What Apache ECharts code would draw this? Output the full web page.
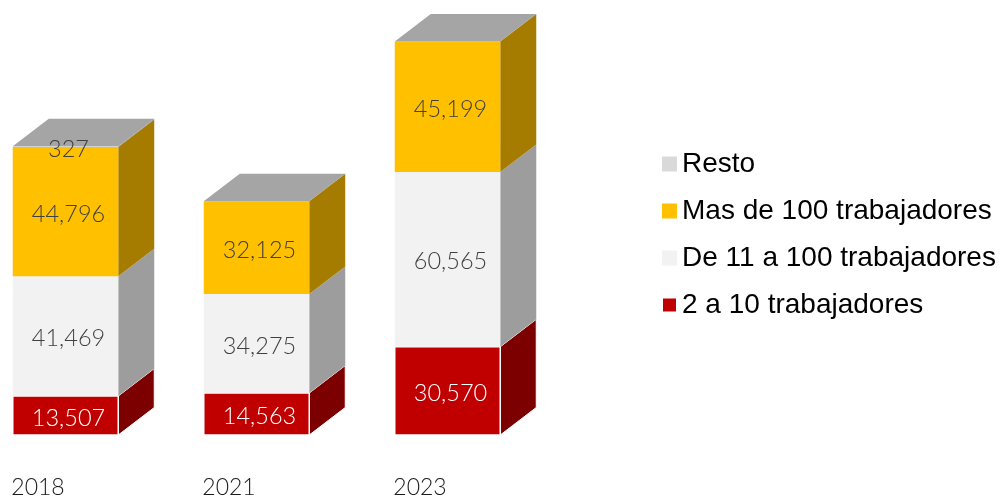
<!DOCTYPE html>
<html><head><meta charset="utf-8">
<style>html,body{margin:0;padding:0;background:#fff}#c{width:1003px;height:501px}</style>
<script src="https://cdn.jsdelivr.net/npm/echarts@6/dist/echarts.min.js"></script>
</head><body><div id="c"></div><script>
const years = ['2018','2021','2023'];
const pequenas = [13507,14563,30570];
const medianas = [41469,34275,60565];
const grandes = [44796,32125,45199];
const resto = [327,0,0];
const names = ['2 a 10 trabajadores','De 11 a 100 trabajadores','Mas de 100 trabajadores','Resto'];
const values = [pequenas,medianas,grandes,resto];
const front = ['#c00000','#f2f2f2','#ffc000','#d9d9d9'];
const side = ['#7c0000','#9d9d9d','#a67c00','#8d8d8d'];
const topFace = '#a5a5a5';
const labelColor = ['#ffffff','#404040','#404040','#404040'];
const DX = 36, DY = 27.5, BAR = 105.5;
const FONT = '300 23.5px Lato, sans-serif';

function renderer(si){
  return function(params, api){
    const cx = api.coord([api.value(0),0])[0];
    const y0 = api.coord([api.value(0),api.value(1)])[1];
    const y1 = api.coord([api.value(0),api.value(2)])[1];
    const xl = cx-BAR/2, xr = cx+BAR/2;
    const kids = [];
    if (api.value(2) > api.value(1)) {
      kids.push({type:'polygon',shape:{points:[[xr,y0],[xr+DX,y0-DY],[xr+DX,y1-DY],[xr,y1]]},
        style:{fill:side[si],stroke:si===0?'#fff':null,lineWidth:si===0?1:0}});
      kids.push({type:'rect',shape:{x:xl,y:y1,width:BAR,height:y0-y1},
        style:{fill:front[si],stroke:si===0?'#fff':null,lineWidth:si===0?1.5:0}});
    }
    if (si === values.length-1) {
      kids.push({type:'polygon',shape:{points:[[xl,y1],[xl+DX,y1-DY],[xr+DX,y1-DY],[xr,y1]]},style:{fill:topFace}});
    }
    if (api.value(2) > api.value(1)) {
      kids.push({type:'text',z2:10,style:{x:cx+3,y:(y0+y1)/2+2.5,text:api.value(3).toLocaleString('en-US'),
        align:'center',verticalAlign:'middle',font:FONT,fill:labelColor[si]}});
    }
    return {type:'group',children:kids};
  };
}
const series = names.map((n,si)=>({
  type:'custom',name:n,clip:false,silent:true,
  itemStyle:{color:front[si]},
  encode:{x:0,y:[1,2]},
  renderItem:renderer(si),
  data:years.map((y,i)=>{
    let base=0; for(let k=0;k<si;k++) base+=values[k][i];
    return [i,base,base+values[si][i],values[si][i]];
  })
}));
const chart = echarts.init(document.getElementById('c'),null,{renderer:'canvas'});
chart.setOption({
  animation:false,
  tooltip:{show:false},
  legend:{
    orient:'vertical',left:656,top:144,itemWidth:15,itemHeight:15,itemGap:17,icon:'rect',
    selectedMode:false,
    textStyle:{fontFamily:'"Liberation Sans", Arial, sans-serif',fontSize:28,color:'#000',lineHeight:30},
    data:[names[3],names[2],names[1],{name:names[0],itemStyle:{borderColor:'#fff',borderWidth:2}}]
  },
  grid:{left:-30,right:460,top:31,bottom:66,outerBoundsMode:'none'},
  xAxis:{type:'category',data:years,axisLine:{show:false},axisTick:{show:false},
    axisLabel:{margin:41.5,color:'#1a1a1a',fontFamily:'Lato, sans-serif',fontWeight:300,fontSize:23,padding:[0,55,0,0],interval:0}},
  yAxis:{type:'value',min:0,max:140000,show:false,splitLine:{show:false}},
  series
});
</script></body></html>
